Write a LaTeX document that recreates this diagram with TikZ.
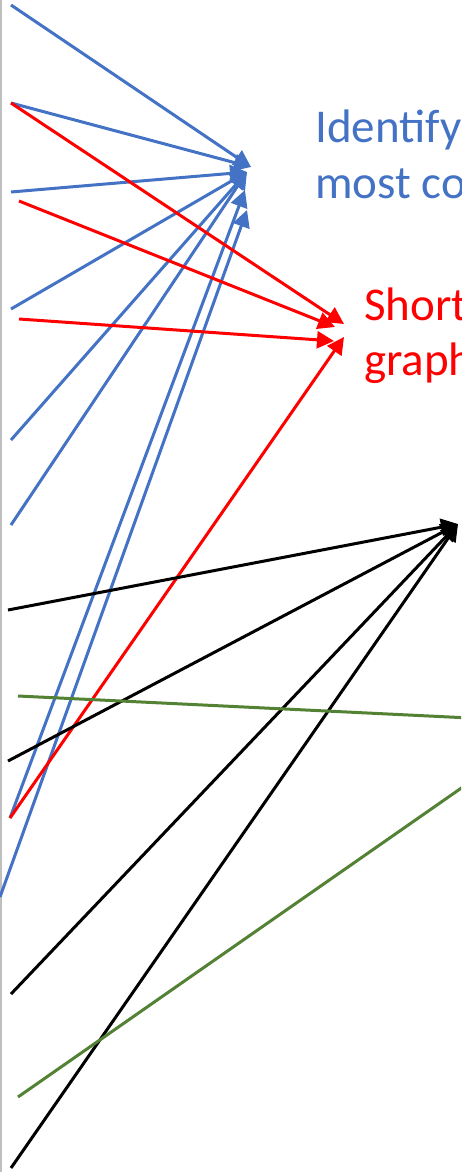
\documentclass[tikz,border=0pt]{standalone}
\usepackage{fontspec}
\setmainfont{Carlito}
\usetikzlibrary{arrows.meta,positioning}
\definecolor{aBlue}{HTML}{4472C4}
\definecolor{aRed}{HTML}{FF0000}
\definecolor{aGreen}{HTML}{548235}
\tikzset{
  link/.style={line width=3pt},
  tip/.style={-{Triangle[length=17pt,width=17pt]}},
  lbl/.style={inner sep=0pt,anchor=base west,font=\fontsize{47}{56}\selectfont}
}

\begin{document}
\begin{tikzpicture}[x=1pt,y=-1pt]
  \clip (0,0) rectangle (461,1172);
  \fill[white] (0,0) rectangle (461,1172);
  \draw[line width=2pt,black!25] (1,0) -- (1,1172);
  % labels
  \node[lbl,text=aBlue] (ident) at (315,142) {Identify};
  \node[lbl,text=aBlue] (mostco) at ([yshift=-56pt]ident.base west) {most co};
  \node[lbl,text=aRed] (short) at (364,320) {Short};
  \node[lbl,text=aRed] (graph) at ([yshift=-55pt]short.base west) {graph};
  % ends
  \coordinate (b1) at (11,5);
  \coordinate (b2) at (11,103);
  \coordinate (b3) at (11,192);
  \coordinate (b4) at (11,309);
  \coordinate (b5) at (11,440);
  \coordinate (b6) at (11,525);
  \coordinate (b7) at (10,818);
  \coordinate (b8) at (0,897);
  \coordinate (r1) at (11,103);
  \coordinate (r2) at (19,201);
  \coordinate (r3) at (19,319);
  \coordinate (r4) at (10,818);
  \coordinate (k1) at (8,610);
  \coordinate (k2) at (8,761);
  \coordinate (k3) at (11,994);
  \coordinate (k4) at (11,1168);
  \coordinate (g1) at (18,696);
  \coordinate (g2) at (18,1097);
  \coordinate (blueA) at (251,167);
  \coordinate (blueB) at (247,172);
  \coordinate (blueC) at (245,190);
  \coordinate (blueD) at (247,210);
  \coordinate (redA) at (344,324);
  \coordinate (redB) at (335,327);
  \coordinate (redC) at (334,341);
  \coordinate (redD) at (344,337);
  \coordinate (blk) at (458,524);
  \coordinate (gEndA) at (470,718);
  \coordinate (gEndB) at (470,782);
  % blue
  \foreach \s/\t in {b1/blueA,b2/blueA,b3/blueB,b4/blueB,b5/blueB,b6/blueB,b7/blueC,b8/blueD}
    \draw[link,tip,aBlue] (\s) -- (\t);
  % red
  \foreach \s/\t in {r1/redA,r2/redB,r3/redC,r4/redD}
    \draw[link,tip,aRed] (\s) -- (\t);
  % black
  \foreach \s in {k1,k2,k3,k4}
    \draw[link,tip,black] (\s) -- (blk);
  % green
  \draw[link,aGreen] (g1) -- (gEndA);
  \draw[link,aGreen] (g2) -- (gEndB);
\end{tikzpicture}
\end{document}
